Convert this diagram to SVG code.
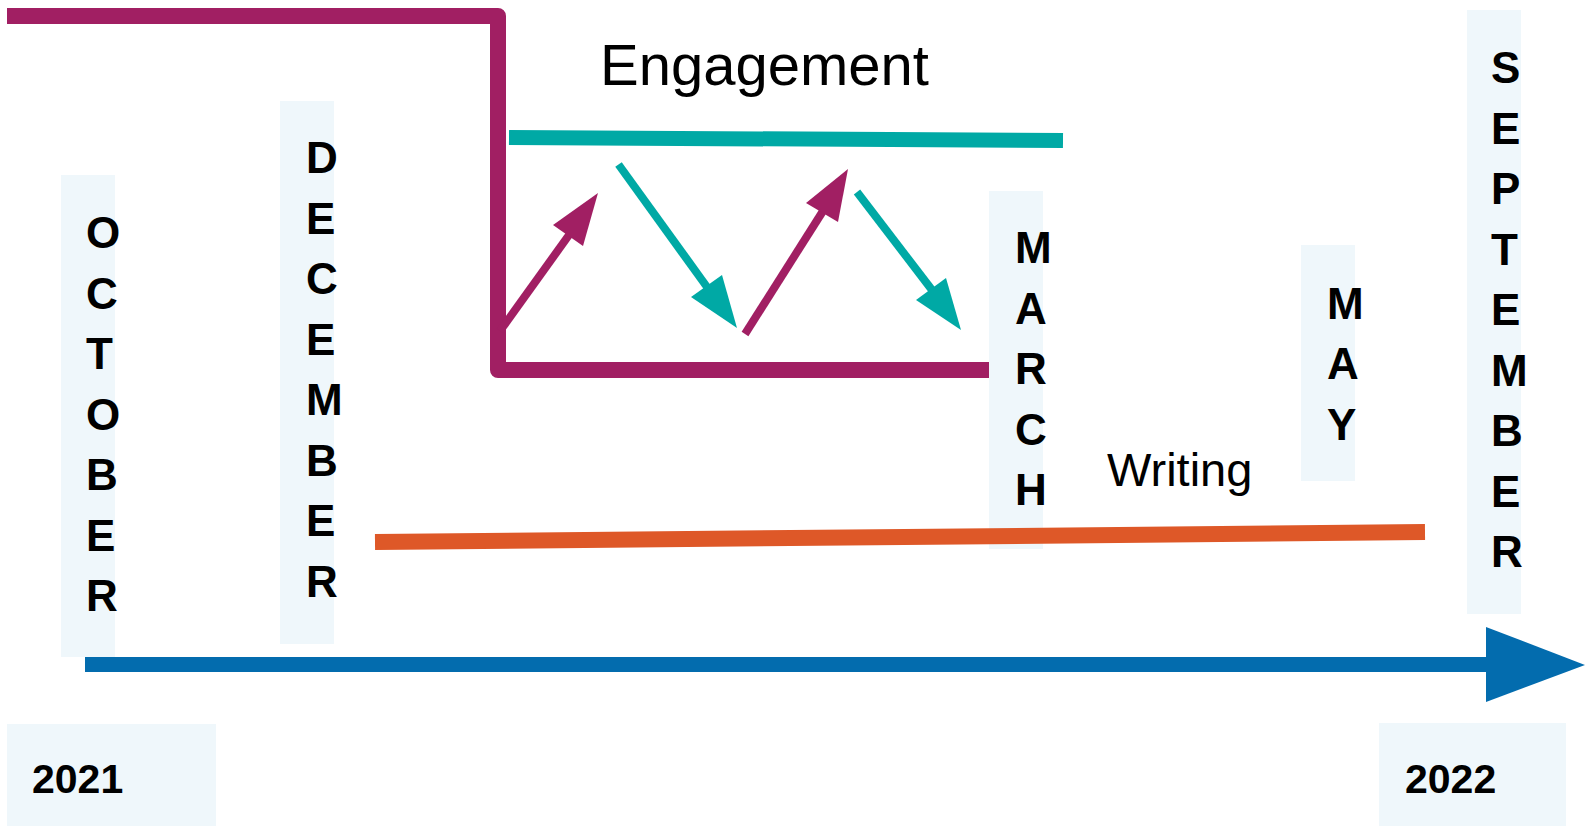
<svg xmlns="http://www.w3.org/2000/svg" width="1585" height="826" viewBox="0 0 1585 826">
<style>
.bg{fill:#ffffff}
.box{fill:#EFF7FB}
.month{font-family:"Liberation Sans",Arial,sans-serif;font-weight:bold;font-size:44px;fill:#000}
.year{font-family:"Liberation Sans",Arial,sans-serif;font-weight:bold;font-size:41px;fill:#000}
.label{font-family:"Liberation Sans",Arial,sans-serif;fill:#000}
.mag{stroke:#A11F63;fill:none}
.magf{fill:#A11F63}
.teal{stroke:#00A9A5;fill:none}
.tealf{fill:#00A9A5}
.arr{stroke-width:8;stroke-linecap:butt}
</style>
<rect class="bg" x="0" y="0" width="1585" height="826"/>
<g id="october">
  <rect class="box" x="61" y="175" width="54" height="482"/>
  <text class="month"><tspan x="86" y="248">O</tspan><tspan x="86" y="308.5">C</tspan><tspan x="86" y="369">T</tspan><tspan x="86" y="429.5">O</tspan><tspan x="86" y="490">B</tspan><tspan x="86" y="550.5">E</tspan><tspan x="86" y="611">R</tspan></text>
</g>
<g id="december">
  <rect class="box" x="280" y="101" width="54" height="543"/>
  <text class="month"><tspan x="306" y="173">D</tspan><tspan x="306" y="233.5">E</tspan><tspan x="306" y="294">C</tspan><tspan x="306" y="354.5">E</tspan><tspan x="306" y="415">M</tspan><tspan x="306" y="475.5">B</tspan><tspan x="306" y="536">E</tspan><tspan x="306" y="596.5">R</tspan></text>
</g>
<g id="march">
  <rect class="box" x="989" y="191" width="54" height="358"/>
  <text class="month"><tspan x="1015" y="263">M</tspan><tspan x="1015" y="323.5">A</tspan><tspan x="1015" y="384">R</tspan><tspan x="1015" y="444.5">C</tspan><tspan x="1015" y="505">H</tspan></text>
</g>
<g id="may">
  <rect class="box" x="1301" y="245" width="54" height="236"/>
  <text class="month"><tspan x="1327" y="318.5">M</tspan><tspan x="1327" y="379">A</tspan><tspan x="1327" y="439.5">Y</tspan></text>
</g>
<g id="september">
  <rect class="box" x="1467" y="10" width="54" height="604"/>
  <text class="month"><tspan x="1491" y="83">S</tspan><tspan x="1491" y="143.5">E</tspan><tspan x="1491" y="204">P</tspan><tspan x="1491" y="264.5">T</tspan><tspan x="1491" y="325">E</tspan><tspan x="1491" y="385.5">M</tspan><tspan x="1491" y="446">B</tspan><tspan x="1491" y="506.5">E</tspan><tspan x="1491" y="567">R</tspan></text>
</g>
<g id="year-2021">
  <rect class="box" x="7" y="724" width="209" height="102"/>
  <text class="year" x="32" y="793">2021</text>
</g>
<g id="year-2022">
  <rect class="box" x="1379" y="723" width="187" height="103"/>
  <text class="year" x="1405" y="793">2022</text>
</g>
<g id="engagement-label">
  <text class="label" x="600" y="85" font-size="58">Engagement</text>
</g>
<g id="writing-label">
  <text class="label" x="1107" y="486" font-size="47">Writing</text>
</g>
<g id="connectors">
  <path id="engagement-frame" class="mag" d="M7,16 L498,16 L498,370 L989,370" stroke-width="16" stroke-linejoin="round"/>
  <line id="engagement-bar" class="teal" x1="509" y1="137.5" x2="1063" y2="140.5" stroke-width="15"/>
  <line id="writing-bar" x1="375" y1="542" x2="1425" y2="532" stroke="#DE5828" stroke-width="16"/>
  <g id="timeline-arrow">
    <line x1="85" y1="664.5" x2="1487" y2="664.5" stroke="#036CAE" stroke-width="15"/>
    <polygon points="1486,627 1585,665 1486,702" fill="#036CAE"/>
  </g>
  <g id="arrow-up-1">
    <line class="mag arr" x1="500" y1="331" x2="569" y2="235"/>
    <polygon class="magf" points="598,193 553,225 583,246"/>
  </g>
  <g id="arrow-down-1">
    <line class="teal arr" x1="618.5" y1="164.5" x2="707" y2="287"/>
    <polygon class="tealf" points="737,328 691,297 722,275"/>
  </g>
  <g id="arrow-up-2">
    <line class="mag arr" x1="745" y1="334" x2="823" y2="211"/>
    <polygon class="magf" points="848,169 806,203 838,222"/>
  </g>
  <g id="arrow-down-2">
    <line class="teal arr" x1="857" y1="192" x2="932" y2="290"/>
    <polygon class="tealf" points="961,330 916,300 946,278"/>
  </g>
</g>
</svg>
